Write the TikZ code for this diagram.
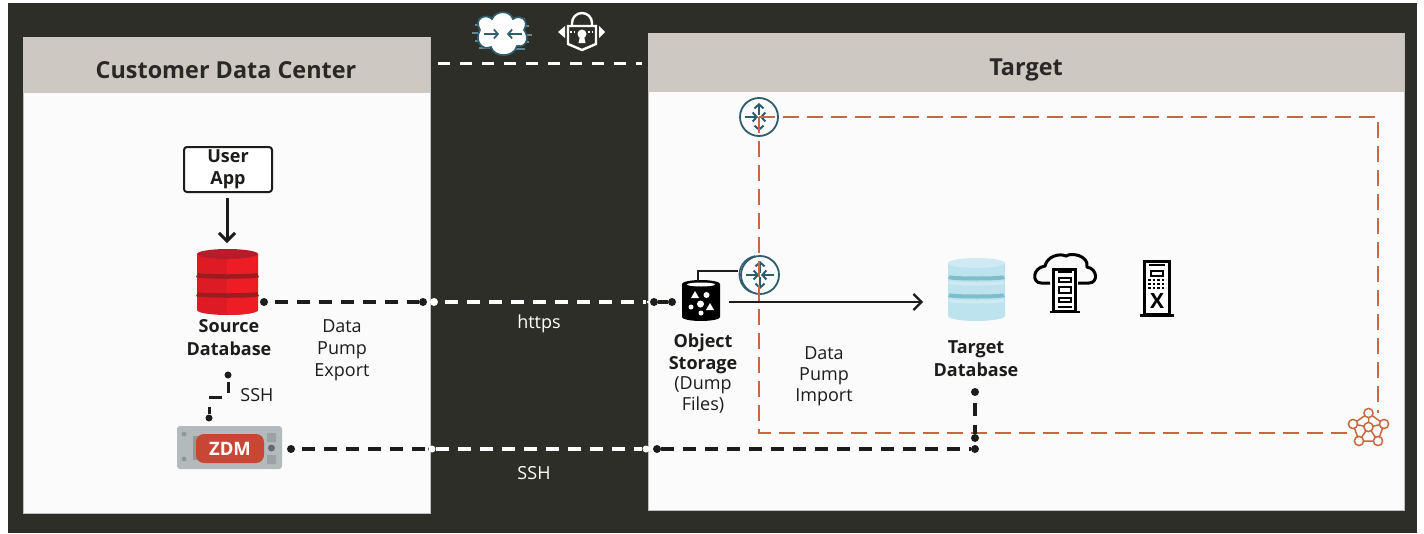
\documentclass[tikz,border=0pt]{standalone}
\usepackage{fontspec}
\usepackage{tikz}
\usetikzlibrary{arrows.meta}
\setmainfont{Open Sans}
\definecolor{darkbg}{HTML}{2E2E29}
\definecolor{headbg}{HTML}{CDC8C2}
\definecolor{panelbg}{HTML}{FBFBFB}
\definecolor{inkblack}{HTML}{1E1C1A}
\definecolor{routerteal}{HTML}{2F5D70}
\definecolor{rust}{HTML}{C9683F}
\definecolor{srcred}{HTML}{DE1B24}
\definecolor{srcredlt}{HTML}{EE1C25}
\definecolor{srcredtop}{HTML}{B71C2A}
\definecolor{srcband}{HTML}{9E1B20}
\definecolor{tgtblue}{HTML}{BDE3EE}
\definecolor{tgttop}{HTML}{CFEAF2}
\definecolor{tgtband}{HTML}{7DBECB}
\definecolor{zdmgrey}{HTML}{B4B9BB}
\definecolor{zdmdark}{HTML}{8F989D}
\definecolor{zdmred}{HTML}{C74634}
\newcommand{\routerarrows}[1]{%
    % the four little arrows of a router, all around one centre
    \begin{scope}[shift={(#1)}, routerteal, line width=2pt]
        \draw[-{Straight Barb[length=4pt,width=9pt]}] (0,-2) -- (0,-14);
        \draw[-{Straight Barb[length=4pt,width=9pt]}] (0,2) -- (0,14);
        \draw[-{Straight Barb[length=4pt,width=9pt]}] (-14,0) -- (-1,0);
        \draw[-{Straight Barb[length=4pt,width=9pt]}] (14,0) -- (1,0);
    \end{scope}}
\begin{document}
\begin{tikzpicture}[
            x=1pt, y=-1pt,
            >={Straight Barb[length=8pt,width=16pt]},
            panel/.style={fill=panelbg, draw=black!25, line width=.5pt},
            head/.style={fill=headbg},
            title/.style={font=\fontsize{23.4}{28}\selectfont\bfseries, text=black!80!headbg},
            lbl/.style={align=center, inner sep=0, text=inkblack, font=\fontsize{18}{22}\selectfont},
            wlbl/.style={lbl, text=white},
            blbl/.style={lbl, font=\fontsize{18}{23}\selectfont\bfseries},
            dot/.style={circle, fill=inkblack, inner sep=0, minimum size=8pt},
            wdot/.style={dot, fill=white},
            link/.style={inkblack, line width=3.3pt, dash pattern=on 13pt off 9pt, dash phase=15pt},
            wlink/.style={link, white},
            fence/.style={rust, line width=1.4pt, dash pattern=on 16pt off 8pt},
            router/.style={circle, draw=routerteal, line width=1.8pt, inner sep=0, minimum size=38pt},
            vm/.style={draw=black, fill=white, line width=3pt}
        ]
        \useasboundingbox (0,0) rectangle (1424,533);
        \fill[darkbg] (8,3) rectangle (1417,533);

        % Panels
        \filldraw[panel] (23,37) rectangle (430,513);
        \fill[head] (23,37) rectangle (430,93);
        \filldraw[panel] (648,33) rectangle (1404,510);
        \fill[head] (648,33) rectangle (1404,92);
        \node[title] (custtitle) at (226,70) {Customer Data Center};
        \node[title] (targtitle) at (1026,70) {Target};

        % Tunnel on top
        \coordinate (tunnelL) at (438,63);
        \coordinate (tunnelR) at (642,63);
        \draw[white, line width=3pt, dash pattern=on 12pt off 10pt] (tunnelL) -- (tunnelR);

        % Cloud with arrows
        \begin{scope}[shift={(502,34)}]
            \draw[routerteal!75!white, line width=2.4pt]
                (-30,-1) -- (-18,-1) (-27,-9) -- (-18,-9) (-27,7) -- (-18,7) (-23,-15) -- (-12,-15) (-23,14) -- (-12,14)
                (30,1) -- (18,1) (27,-8) -- (18,-8) (27,8) -- (18,8) (23,-15) -- (12,-15) (23,15) -- (12,15);
            \filldraw[fill=white, draw=routerteal, line width=1.7pt]
                (-22,-4) .. controls (-29,-16) and (-16,-21) .. (-10,-15)
                .. controls (-6,-24) and (8,-24) .. (11,-15)
                .. controls (18,-20) and (28,-14) .. (22,-4)
                .. controls (27,2) and (26,14) .. (15,12)
                .. controls (12,24) and (-8,24) .. (-11,13)
                .. controls (-20,17) and (-28,7) .. (-22,-4) -- cycle;
            \draw[routerteal, line width=1.7pt, -{Straight Barb[length=4pt,width=9pt]}] (-18,0) -- (-3,0);
            \draw[routerteal, line width=1.7pt, -{Straight Barb[length=4pt,width=9pt]}] (20,0) -- (5,0);
        \end{scope}
        % Lock
        \begin{scope}[shift={(582,32)}, white, line width=2.4pt]
            \draw (-10,-6) -- (-10,-9) arc[start angle=180, end angle=360, radius=10] -- (10,-6);
            \draw (-14,-6) -- (14,-6) -- (14,12) -- (0,18) -- (-14,12) -- cycle;
            \fill (0,2) circle (4.5pt);
            \fill (-1.5,2) -- (1.5,2) -- (3.5,11) -- (-3.5,11) -- cycle;
            \draw[line width=1.5pt, dotted] (-19,0) -- (-6,0) (6,0) -- (19,0);
            \fill (-17,-6) -- (-24,0) -- (-17,6) -- cycle;
            \fill (17,-6) -- (23,0) -- (17,6) -- cycle;
        \end{scope}

        % User App and Source Database
        \node[draw=inkblack, line width=2pt, rounded corners=3pt, minimum width=88pt, minimum height=45pt,
            inner sep=0, fill=white, align=center, text=inkblack,
            font=\fontsize{18}{22}\selectfont\bfseries] (userapp) at (228,169.5) {User\\App};
        \coordinate (srctop) at (227,243);
        \coordinate (appbot) at (227,198);
        \draw[->, inkblack, line width=3pt] (appbot) -- (srctop);

        \fill[srcred] (197,254) -- (197,310) arc[start angle=180, end angle=0, x radius=30.5, y radius=5] -- (258,254) -- cycle;
        \fill[srcredlt] (227,254) rectangle (258,310);
        \fill[srcredlt] (227,315) arc[start angle=90, end angle=0, x radius=31, y radius=5] -- (227,310) -- cycle;
        \fill[srcredtop] (227.5,254) ellipse[x radius=30.5, y radius=5];
        \draw[srcband, line width=4.5pt] (197,275) arc[start angle=180, end angle=0, x radius=30.5, y radius=1.5];
        \draw[srcband, line width=4.5pt] (197,294) arc[start angle=180, end angle=0, x radius=30.5, y radius=1.5];
        \node[blbl] (srcdb) at (229,338) {Source\\Database};

        % ZDM box
        \fill[rounded corners=3pt, zdmgrey] (177,426) rectangle (282,469);
        \fill[zdmdark] (193,436) rectangle (260,460);
        \node[fill=zdmred, rounded corners=8pt, minimum width=68pt, minimum height=29pt, inner sep=0, text=white,
            font=\fontsize{18.5}{22}\selectfont\bfseries] (zdm) at (230,448.5) {ZDM};
        \fill[zdmdark] (184,434) circle (2.5pt) (184,459) circle (2.5pt);
        \fill[zdmdark!70!zdmgrey] (267,433) rectangle (276,442) (267,455) rectangle (276,464);
        \fill[zdmdark!70!black] (271.5,448) circle (3.5pt);

        % Object Storage
        \fill[black] (682,284) -- (682,317) arc[start angle=180, end angle=0, x radius=19, y radius=4] -- (720,284) arc[start angle=0, end angle=-180, x radius=19, y radius=4] -- cycle;
        \fill[white] (701,284.5) ellipse[x radius=14, y radius=2];
        \fill[white] (691,298) -- (695,291) -- (699,298) -- cycle;
        \fill[white] (706.5,295) circle (3pt) (700.5,304) circle (3.5pt) (691,307) circle (2.5pt) (701,313) circle (2.5pt);
        \fill[white] (706,310) -- (710,303) -- (714,310) -- cycle;
        \node[blbl, font=\fontsize{18}{22}\selectfont\bfseries] (objstore) at (703,354) {Object\\Storage};
        \node[lbl, font=\fontsize{18}{21}\selectfont] (dumpfiles) at (703,394.5) {(Dump\\Files)};

        % Target Database
        \fill[tgtblue] (948,263) -- (948,316) arc[start angle=180, end angle=0, x radius=28.5, y radius=5] -- (1005,263) -- cycle;
        \fill[tgttop] (976.5,263) ellipse[x radius=28.5, y radius=5];
        \draw[tgttop, line width=3pt] (949,282) arc[start angle=180, end angle=0, x radius=27.5, y radius=2];
        \draw[tgttop, line width=3pt] (949,300) arc[start angle=180, end angle=0, x radius=27.5, y radius=2];
        \draw[tgtband, line width=4pt] (949,277) arc[start angle=180, end angle=0, x radius=27.5, y radius=1.5];
        \draw[tgtband, line width=4pt] (949,295) arc[start angle=180, end angle=0, x radius=27.5, y radius=1.5];
        \node[blbl] (targetdb) at (976,358.5) {Target\\Database};

        % Cloud server
        \draw[black, line width=3pt]
            (1050,283) -- (1041,283) .. controls (1032,283) and (1032,268) .. (1045,266)
            .. controls (1047,256) and (1060,253) .. (1066,256)
            .. controls (1072,252) and (1089,256) .. (1087,267)
            .. controls (1098,269) and (1098,283) .. (1089,283) -- (1078,283);
        \begin{scope}[shift={(1064.5,290)}]
            \filldraw[vm] (-11,-21) rectangle (11,21);
            \draw[black, line width=1.5pt] (-7,-18) -- (7,-18) (-7,17) -- (7,17);
            \draw[black, line width=2pt, fill=white] (-6,-12) rectangle (6,-8) (-6,-3) rectangle (6,3) (-6,8) rectangle (6,12);
            \draw[black, line width=2pt] (-15,22) -- (15,22);
        \end{scope}
        % Exadata rack
        \begin{scope}[shift={(1157,287)}]
            \filldraw[vm] (-12.5,-26) rectangle (12.5,27);
            \draw[black, line width=1.5pt] (-8,-22) -- (8,-22);
            \draw[black, line width=2pt] (-6,-16) rectangle (6,-11);
            \draw[black, line width=2pt, dash pattern=on 2.5pt off 2pt] (-9,-7) -- (9,-7) (-9,-3) -- (9,-3) (-9,1) -- (9,1);
            \node[inner sep=0, font=\fontsize{21}{21}\selectfont\bfseries] (xlbl) at (0,14) {X};
            \draw[black, line width=2.4pt] (-17,28.5) -- (17,28.5);
        \end{scope}

        % Orange fence and routers
        \node[router, fill=panelbg] (rttop) at (759,117) {};
        \node[router] (rtobj) at (760,275) {};
        \draw[routerteal, line width=1.4pt] (755,256) arc[start angle=-100, end angle=-250, radius=19];
        \coordinate (stlink1) at (698,281);
        \coordinate (stlink2) at (698,271);
        \coordinate (stlink3) at (738,271);
        \draw[inkblack, line width=1.5pt] (stlink1) -- (stlink2) -- (stlink3);
        \routerarrows{759,117}
        \routerarrows{760,275}
        \coordinate (fenceTR) at (1378,117);
        \coordinate (fenceBL) at (759,433);
        \coordinate (clusterA) at (1350,433);
        \coordinate (clusterB) at (1378,413);
        \coordinate (rtc) at (759,117);
        \draw[fence] (rtc) -- (fenceTR) -- (clusterB);
        \draw[fence] (rtc) -- (fenceBL) -- (clusterA);

        % Cluster icon
        \begin{scope}[shift={(1368.5,428)}, rust, line width=1.5pt]
            \coordinate (c0) at (0,-1);
            \coordinate (c1) at (0,-15);
            \coordinate (c2) at (15.5,-4);
            \coordinate (c3) at (9.5,13);
            \coordinate (c4) at (-9.5,13);
            \coordinate (c5) at (-15.5,-4);
            \draw (c1) -- (c2) -- (c3) -- (c4) -- (c5) -- cycle;
            \draw (c0) -- (c1) (c0) -- (c2) (c0) -- (c3) (c0) -- (c4) (c0) -- (c5);
            \foreach \p in {c0,c1,c2,c3,c4,c5} {
                \filldraw[fill=panelbg] (\p) circle (4.6pt);
            }
        \end{scope}

        % Solid arrow to the target
        \coordinate (pumpA) at (729,302);
        \coordinate (pumpB) at (923,302);
        \draw[->, inkblack, line width=2.2pt] (pumpA) -- (pumpB);

        % https link
        \node[dot] (https1) at (264,302) {};
        \node[dot] (https2) at (423,302) {};
        \node[wdot] (https3) at (434,302) {};
        \node[wdot, minimum size=3pt] (https4) at (648,302) {};
        \node[dot] (https5) at (654,302) {};
        \node[dot] (https6) at (672,302) {};
        \draw[link] (https1) -- (https2);
        \draw[wlink] (https3) -- (https4);
        \draw[link, dash pattern=on 10pt off 40pt, dash phase=0pt] (https5) -- (https6);

        % SSH link
        \node[dot] (ssh1) at (291,449) {};
        \node[dot, minimum size=4pt] (ssh2) at (430,449) {};
        \node[wdot, minimum size=7pt] (ssh3) at (432,449) {};
        \node[wdot, minimum size=7pt] (ssh4) at (646,449) {};
        \node[dot] (ssh5) at (657,449) {};
        \node[dot] (ssh6) at (975,449) {};
        \draw[link] (ssh1) -- (ssh2);
        \draw[wlink, dash phase=0pt] (ssh3) -- (ssh4);
        \draw[link, dash phase=0pt] (ssh5) -- (ssh6);

        % SSH from Target Database
        \node[dot] (tssh1) at (975,392) {};
        \node[dot] (tssh2) at (975,438) {};
        \draw[link, dash phase=15pt] (tssh1) -- (tssh2);

        % SSH from Source Database to ZDM
        \node[dot, minimum size=7pt] (sssh1) at (228,375) {};
        \node[dot, minimum size=7pt] (sssh2) at (209,418) {};
        \coordinate (sshtop1) at (228,382);
        \coordinate (sshtop2) at (228,393);
        \coordinate (sshmid1) at (222,397);
        \coordinate (sshmid2) at (209,397);
        \coordinate (sshlow) at (209,407);
        \draw[inkblack, line width=3pt] (sshtop1) -- (sshtop2);
        \draw[inkblack, line width=3pt] (sshmid1) -- (sshmid2);
        \draw[inkblack, line width=3pt] (sshlow) -- (sssh2);

        % Labels
        \node[lbl] (exportlbl) at (342,350.5) {Data\\Pump\\Export};
        \node[lbl] (sshlbl) at (257,395) {SSH};
        \node[wlbl] (httpslbl) at (539,324) {https};
        \node[wlbl] (sshlbl2) at (534,473) {SSH};
        \node[lbl, font=\fontsize{18}{21}\selectfont] (importlbl) at (824,376) {Data\\Pump\\Import};
\end{tikzpicture}
\end{document}
